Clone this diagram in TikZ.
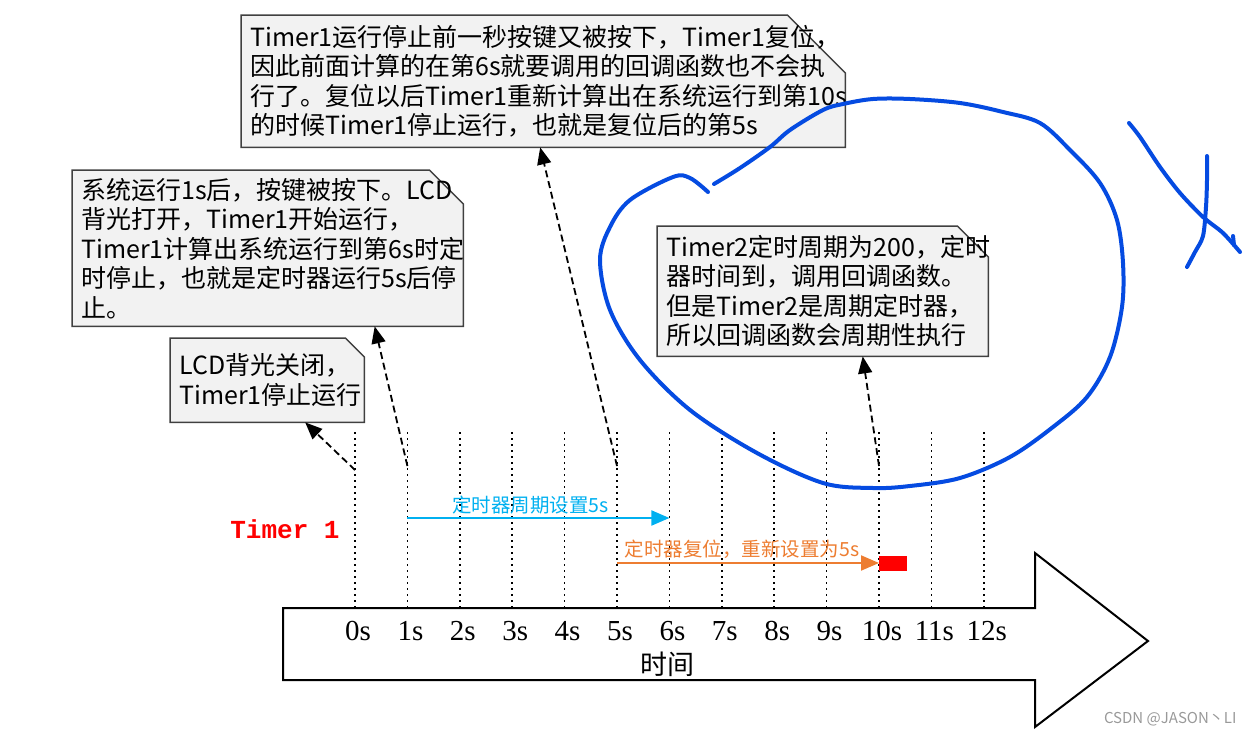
\documentclass[tikz,border=0pt]{standalone}
\usepackage{fontspec}
\newfontfamily\cjk{Noto Sans CJK SC}
\newfontfamily\numfont{Liberation Serif}
\newfontfamily\monofont{Liberation Mono}
\usetikzlibrary{arrows.meta,positioning,backgrounds,calc}
\definecolor{notefill}{HTML}{F2F2F2}
\definecolor{notedraw}{HTML}{404040}
\definecolor{periodblue}{RGB}{0,176,240}
\definecolor{resetorange}{RGB}{237,125,49}
\definecolor{penblue}{RGB}{5,75,225}
% folded-corner callout drawn behind a text node
\newcommand{\snipbox}[2]{%
  \begin{scope}[on background layer]
    \draw[notebox] (#1.south west) -- (#1.north west) -- ([xshift=-#2]#1.north east)
      -- ([yshift=-#2]#1.north east) -- (#1.south east) -- cycle;
  \end{scope}}

\begin{document}
\begin{tikzpicture}[x=1pt, y=-1pt,
  note/.style={anchor=north west, align=left, inner xsep=9pt, inner ysep=0pt,
    font=\cjk\fontsize{25}{29.5}\selectfont},
  notebox/.style={draw=notedraw, fill=notefill, line width=1.5pt, line join=miter},
  tick/.style={line width=1.6pt, dash pattern=on 1.6pt off 4.4pt},
  ticklabel/.style={font=\numfont\fontsize{29}{30}\selectfont, inner sep=0pt},
  callout/.style={line width=1.8pt, dash pattern=on 7pt off 4pt, -{Triangle[length=17pt,width=14pt]}},
  span/.style={line width=2pt, -{Triangle[length=18pt,width=15pt]}},
  spanlabel/.style={above, inner sep=3pt, font=\cjk\fontsize{19.5}{20}\selectfont},
  scribble/.style={draw=penblue, line width=4pt, line cap=round, line join=round}]
\useasboundingbox (0,0) rectangle (1253,736);

% time axis arrow
\draw[line width=2pt, line join=miter] (283,608) -- (1035,608) -- (1035,553) -- (1148,641)
  -- (1035,727) -- (1035,680) -- (283,680) -- cycle;
\foreach \i in {0,...,12} {
  \coordinate (k\i) at ({355+52.4*\i},466);
  \draw[tick] ({355+52.4*\i},432) -- ({355+52.4*\i},607);
  \node[ticklabel] (l\i) at ({358+52.4*\i},631) {\i s};
}
\node[font=\cjk\fontsize{27}{28}\selectfont] (axis) at (667,664) {时间};
\node[text=red, font=\monofont\bfseries\fontsize{26}{27}\selectfont] (timer) at (285,529) {Timer 1};

% callouts
\node[note, minimum width=604pt, minimum height=132pt, text width=586pt] (tA) at (241,15)
  {Timer1运行停止前一秒按键又被按下，Timer1复位，\\因此前面计算的在第6s就要调用的回调函数也不会执\\行了。复位以后Timer1重新计算出在系统运行到第10s\\的时候Timer1停止运行，也就是复位后的第5s};
\snipbox{tA}{58pt}
\node[note, minimum width=391pt, minimum height=156pt, text width=373pt] (tB) at (72,170)
  {系统运行1s后，按键被按下。LCD\\背光打开，Timer1开始运行，\\Timer1计算出系统运行到第6s时定\\时停止，也就是定时器运行5s后停\\止。};
\snipbox{tB}{34pt}
\node[note, minimum width=194pt, minimum height=84pt, text width=176pt] (tC) at (170,338)
  {LCD背光关闭，\\Timer1停止运行};
\snipbox{tC}{19pt}
\node[note, minimum width=331pt, minimum height=130pt, text width=313pt] (tD) at (657,226)
  {Timer2定时周期为200，定时\\器时间到，调用回调函数。\\但是Timer2是周期定时器，\\所以回调函数会周期性执行};
\snipbox{tD}{31pt}

\draw[callout] ([yshift=-4pt]k0) -- ([xshift=38pt]tC.south);
\draw[callout] (k1) -- ([xshift=107pt]tB.south);
\draw[callout] (k5) -- ([xshift=-3pt]tA.south);
\draw[callout] (k10) -- ([xshift=40pt]tD.south);

% timer spans
\draw[span, periodblue] ([yshift=-52pt]k1) -- node[spanlabel, xshift=-8pt] {定时器周期设置5s} ([yshift=-52pt]k6);
\draw[span, resetorange] ([yshift=-97pt]k5) -- node[spanlabel, xshift=-6pt] {定时器复位，重新设置为5s} ([yshift=-97pt]k10);
\fill[red] (879,556) rectangle (907,571);

% hand-drawn marks
\draw[scribble] plot[smooth, tension=0.55] coordinates {(714,184) (740,168) (770,147) (790,130)
  (823,110) (843,104) (873,99) (910,99) (960,103) (1003,112) (1040,123) (1070,150) (1100,183)
  (1117,220) (1123,263) (1122,307) (1110,357) (1087,397) (1053,427) (1010,457) (960,478)
  (910,486) (873,488) (823,483) (757,453) (690,410) (640,360) (610,310) (600,260) (610,227)
  (630,200) (673,177) (690,178) (708,192)};
\draw[scribble] plot[smooth, tension=0.5] coordinates {(1129,123) (1140,137) (1160,167)
  (1180,193) (1203,217) (1223,233) (1240,252)};
\draw[scribble] (1233,236) -- (1234,245);
\draw[scribble] plot[smooth, tension=0.5] coordinates {(1207,156) (1207,180) (1206,207)
  (1203,236) (1195,252) (1187,267)};

\node[text=black!40, font=\cjk\fontsize{15}{16}\selectfont, anchor=east] (mark) at (1240,719) {CSDN @JASON丶LI};
\end{tikzpicture}
\end{document}
